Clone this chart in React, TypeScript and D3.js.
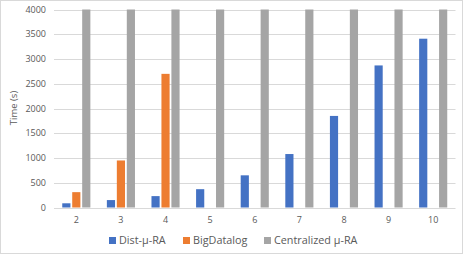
import React, { useEffect, useRef } from 'react';
import * as d3 from 'd3';

const categories = ['2', '3', '4', '5', '6', '7', '8', '9', '10'];
const seriesNames = ['Dist-µ-RA', 'BigDatalog', 'Centralized µ-RA'];
const distValues = [85, 150, 230, 370, 650, 1080, 1850, 2870, 3410];
const bigDatalogValues = [310, 950, 2700, null, null, null, null, null, null];
const centralValues = [4000, 4000, 4000, 4000, 4000, 4000, 4000, 4000, 4000];
const yTicks = [0, 500, 1000, 1500, 2000, 2500, 3000, 3500, 4000];
const colors = ['#4472c4', '#ed7d31', '#a5a5a5'];

const App: React.FC = () => {
  const svgRef = useRef<SVGSVGElement>(null);

  useEffect(() => {
    const svg = d3.select(svgRef.current);
    svg.selectAll('*').remove();

    const W = 463;
    const H = 254;
    const font = '"Open Sans", "Liberation Sans", sans-serif';
    const textColor = '#595959';

    svg.append('rect')
      .attr('x', 0.5).attr('y', 0.5)
      .attr('width', W - 1).attr('height', H - 1)
      .attr('fill', '#fff').attr('stroke', '#d9d9d9');

    const left = 54, right = 455.5, top = 9.5, bottom = 207.5;

    const x = d3.scaleBand().domain(categories).range([left, right]).paddingInner(0.37).paddingOuter(0.185);
    const xs = d3.scaleBand().domain(seriesNames).range([0, x.bandwidth()]).paddingInner(0.18);
    const y = d3.scaleLinear().domain([0, 4000]).range([bottom, top]);

    const g = svg.append('g');

    g.selectAll('.grid')
      .data(yTicks)
      .enter().append('line')
      .attr('x1', left).attr('x2', right)
      .attr('y1', d => Math.round(y(d)) + 0.5).attr('y2', d => Math.round(y(d)) + 0.5)
      .attr('stroke', '#d9d9d9').attr('stroke-width', 1);

    g.selectAll('.ylab')
      .data(yTicks)
      .enter().append('text')
      .attr('x', 46).attr('y', d => y(d))
      .attr('dy', '0.35em')
      .attr('text-anchor', 'end')
      .attr('font-family', font).attr('font-size', 9)
      .attr('fill', textColor)
      .text(d => d);

    const series = [distValues, bigDatalogValues, centralValues];
    series.forEach((vals, si) => {
      g.selectAll(`.bar${si}`)
        .data(vals.map((v, i) => ({ v, c: categories[i] })).filter(d => d.v != null))
        .enter().append('rect')
        .attr('x', d => (x(d.c) as number) + (xs(seriesNames[si]) as number))
        .attr('y', d => y(d.v as number))
        .attr('width', xs.bandwidth())
        .attr('height', d => bottom - y(d.v as number))
        .attr('fill', colors[si]);
    });

    g.selectAll('.xlab')
      .data(categories)
      .enter().append('text')
      .attr('x', d => (x(d) as number) + x.bandwidth() / 2)
      .attr('y', 223)
      .attr('text-anchor', 'middle')
      .attr('font-family', font).attr('font-size', 9)
      .attr('fill', textColor)
      .text(d => d);

    svg.append('text')
      .attr('transform', 'translate(17,108) rotate(-90)')
      .attr('text-anchor', 'middle')
      .attr('font-family', font).attr('font-size', 9.5)
      .attr('fill', textColor)
      .text('Time (s)');

    const legendX = [109, 183, 264];
    seriesNames.forEach((name, i) => {
      const lg = svg.append('g').attr('transform', `translate(${legendX[i]},237)`);
      lg.append('rect').attr('x', 0).attr('y', 0).attr('width', 7).attr('height', 7).attr('fill', colors[i]);
      lg.append('text')
        .attr('x', 10).attr('y', 3.5)
        .attr('dy', '0.35em')
        .attr('font-family', font).attr('font-size', 10.8)
        .attr('fill', textColor)
        .text(name);
    });
  }, []);

  return <svg ref={svgRef} width={463} height={254} style={{ position: 'absolute', left: 0, top: 0 }}></svg>;
};

export default App;
